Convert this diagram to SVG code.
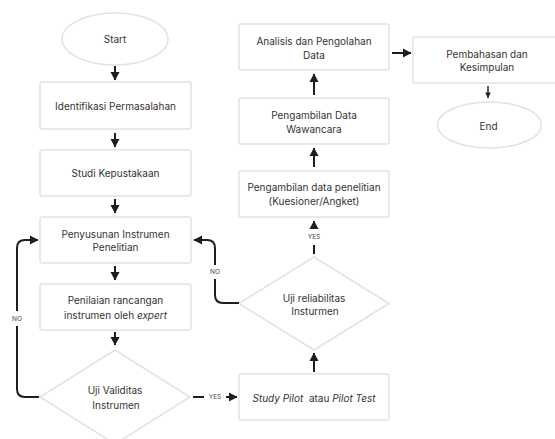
<svg xmlns="http://www.w3.org/2000/svg" width="555" height="439" viewBox="0 0 555 439">
<style>
.box{fill:#fff;stroke:#e2e2e2;stroke-width:1.5}
.t{font-family:Inter,"Liberation Sans",sans-serif;font-size:10px;fill:#333;text-anchor:middle;dominant-baseline:central}
.i{font-style:italic}
.lbl{font-family:Inter,"Liberation Sans",sans-serif;font-size:6.5px;fill:#444;text-anchor:middle;dominant-baseline:central}
.c{fill:none;stroke:#1e1e1e;stroke-width:2}
.c1{fill:none;stroke:#1e1e1e;stroke-width:1.4}
</style>
<defs>
<marker id="ah" markerUnits="userSpaceOnUse" markerWidth="10" markerHeight="10" viewBox="0 0 10 10" refX="9" refY="5" orient="auto">
<path d="M1,0.5 L9.5,5 L1,9.5 Z" fill="#1e1e1e"/>
</marker>
<marker id="ahs" markerUnits="userSpaceOnUse" markerWidth="7" markerHeight="7" viewBox="0 0 10 10" refX="9" refY="5" orient="auto">
<path d="M1,1 L9,5 L1,9 Z" fill="#1e1e1e"/>
</marker>
</defs>
<rect width="555" height="439" fill="#fff"/>

<g id="start"><ellipse class="box" cx="115" cy="39" rx="53" ry="26"/><text class="t" x="115" y="39">Start</text></g>
<g id="identifikasi"><rect class="box" x="40" y="82" width="151" height="47" rx="2"/><text class="t" x="115.5" y="105.5">Identifikasi Permasalahan</text></g>
<g id="studi"><rect class="box" x="40" y="150" width="151" height="46" rx="2"/><text class="t" x="115.5" y="173">Studi Kepustakaan</text></g>
<g id="penyusunan"><rect class="box" x="40" y="217" width="151" height="46" rx="2"/><text class="t" x="115.5" y="233.5">Penyusunan Instrumen</text><text class="t" x="115.5" y="247">Penelitian</text></g>
<g id="penilaian"><rect class="box" x="40" y="284" width="151" height="46" rx="2"/><text class="t" x="115.5" y="300">Penilaian rancangan</text><text class="t" x="115.5" y="314.5">instrumen oleh <tspan class="i">expert</tspan></text></g>
<g id="validitas"><polygon class="box" points="115,350 190,397 115,444 40,397"/><text class="t" x="115" y="390">Uji Validitas</text><text class="t" x="116" y="404.5">Instrumen</text></g>
<g id="pilot"><rect class="box" x="239" y="374" width="150" height="46" rx="2"/><text class="t" x="314" y="397.5"><tspan class="i">Study Pilot</tspan>&#160; atau <tspan class="i">Pilot Test</tspan></text></g>
<g id="reliabilitas"><polygon class="box" points="314,257 389,303.5 314,350 239,303.5"/><text class="t" x="314" y="297.5">Uji reliabilitas</text><text class="t" x="315" y="311">Insturmen</text></g>
<g id="kuesioner"><rect class="box" x="239" y="171" width="150" height="46" rx="2"/><text class="t" x="314" y="187">Pengambilan data penelitian</text><text class="t" x="314" y="201">(Kuesioner/Angket)</text></g>
<g id="wawancara"><rect class="box" x="239" y="98" width="150" height="46" rx="2"/><text class="t" x="314" y="114.5">Pengambilan Data</text><text class="t" x="314" y="128.5">Wawancara</text></g>
<g id="analisis"><rect class="box" x="239" y="24" width="150" height="46" rx="2"/><text class="t" x="314" y="41">Analisis dan Pengolahan</text><text class="t" x="314" y="54.5">Data</text></g>
<g id="pembahasan"><rect class="box" x="413" y="37" width="148" height="46" rx="2"/><text class="t" x="487" y="53.5">Pembahasan dan</text><text class="t" x="487" y="67">Kesimpulan</text></g>
<g id="end"><ellipse class="box" cx="489.5" cy="125" rx="52" ry="23"/><text class="t" x="488.5" y="126">End</text></g>

<g id="connectors">
<path class="c" d="M115,66 V80" marker-end="url(#ah)"/>
<path class="c" d="M115,133 V147" marker-end="url(#ah)"/>
<path class="c" d="M115,199 V213" marker-end="url(#ah)"/>
<path class="c" d="M115,266 V280" marker-end="url(#ah)"/>
<path class="c" d="M115,332 V345" marker-end="url(#ah)"/>
<path class="c" d="M193,397 H204"/>
<text class="lbl" x="215" y="397">YES</text>
<path class="c" d="M226,397 H237" marker-end="url(#ah)"/>
<path class="c" d="M314,372 V353" marker-end="url(#ah)"/>
<path class="c" d="M314,254 V245"/>
<text class="lbl" x="314" y="237">YES</text>
<path class="c" d="M314,229 V221" marker-end="url(#ah)"/>
<path class="c" d="M314,167 V148" marker-end="url(#ah)"/>
<path class="c" d="M314,95 V74" marker-end="url(#ah)"/>
<path class="c" d="M392,53 H411" marker-end="url(#ah)"/>
<path class="c1" d="M488,86 V98" marker-end="url(#ahs)"/>
<path class="c" d="M39,397 H25 Q17,397 17,389 V326"/>
<text class="lbl" x="17" y="318.5">NO</text>
<path class="c" d="M17,311 V248 Q17,240 25,240 H38" marker-end="url(#ah)"/>
<path class="c" d="M239,303 H223 Q215,303 215,295 V279"/>
<text class="lbl" x="215" y="272">NO</text>
<path class="c" d="M215,265 V248 Q215,240 207,240 H194" marker-end="url(#ah)"/>
</g>
</svg>
